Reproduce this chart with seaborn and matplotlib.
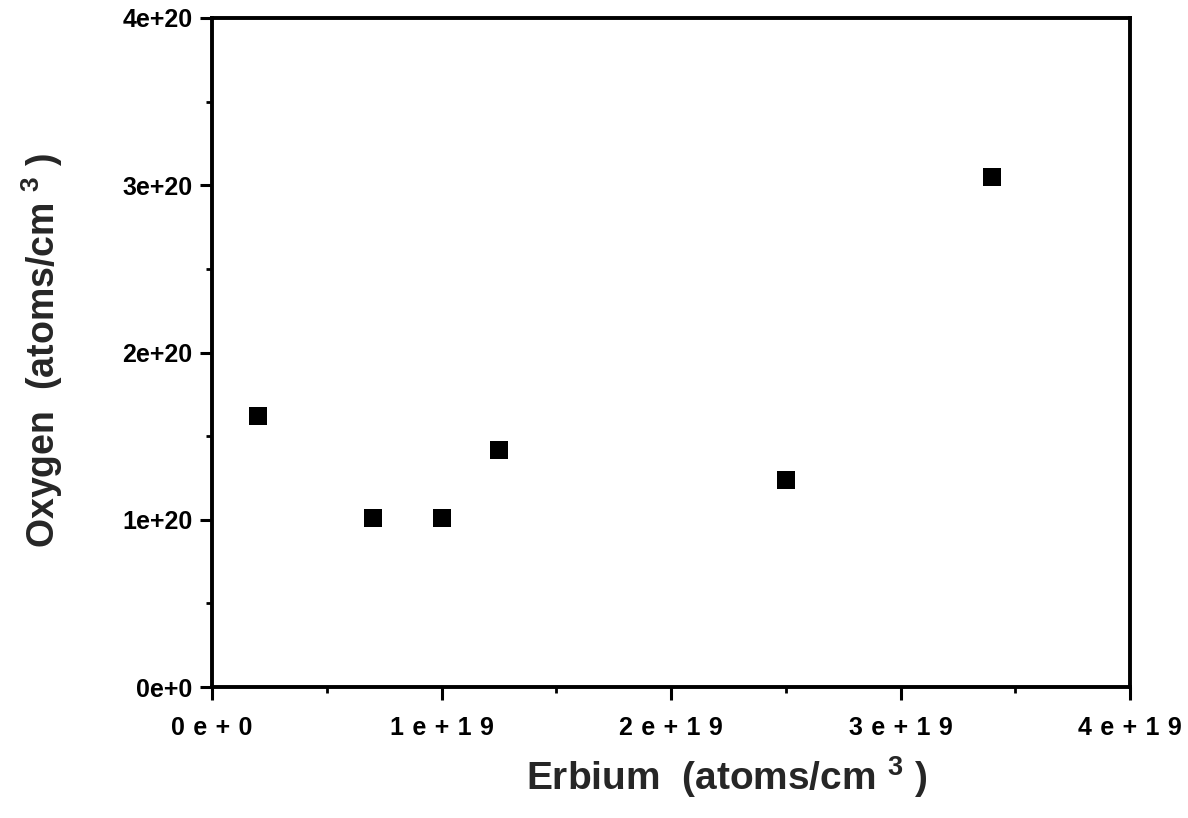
import matplotlib
matplotlib.use("Agg")
import matplotlib.pyplot as plt
import seaborn as sns
import pandas as pd
from matplotlib.ticker import FixedLocator, MultipleLocator

erbium = [2.0e18, 7.0e18, 1.0e19, 1.25e19, 2.5e19, 3.4e19]
oxygen = [1.62e20, 1.01e20, 1.01e20, 1.42e20, 1.24e20, 3.05e20]
sp = "\u2004"
x_ticks = [0, 1e19, 2e19, 3e19, 4e19]
x_tick_labels = [sp.join("0e+0"), sp.join("1e+19"), sp.join("2e+19"),
                 sp.join("3e+19"), sp.join("4e+19")]
y_ticks = [0, 1e20, 2e20, 3e20, 4e20]
y_tick_labels = ["0e+0", "1e+20", "2e+20", "3e+20", "4e+20"]

sns.set_theme(style="white")
plt.rcParams["font.family"] = ["Liberation Sans", "DejaVu Sans"]
plt.rcParams["font.weight"] = "bold"
plt.rcParams["mathtext.fontset"] = "custom"
plt.rcParams["mathtext.rm"] = "Liberation Sans:bold"
plt.rcParams["mathtext.it"] = "Liberation Sans:bold"
plt.rcParams["mathtext.bf"] = "Liberation Sans:bold"

df = pd.DataFrame({"Erbium": erbium, "Oxygen": oxygen})

fig = plt.figure(figsize=(11.88, 8.18), dpi=100)
ax = fig.add_axes([0.1785, 0.1601, 0.7727, 0.8179])

sns.scatterplot(data=df, x="Erbium", y="Oxygen", marker="s", s=150,
                color="black", edgecolor="black", linewidth=0, ax=ax, zorder=3)

ax.set_xlim(0, 4e19)
ax.set_ylim(0, 4e20)
ax.xaxis.set_major_locator(FixedLocator(x_ticks))
ax.set_xticklabels(x_tick_labels)
ax.yaxis.set_major_locator(FixedLocator(y_ticks))
ax.set_yticklabels(y_tick_labels)
ax.xaxis.set_minor_locator(MultipleLocator(5e18))
ax.yaxis.set_minor_locator(MultipleLocator(5e19))

for s in ax.spines.values():
    s.set_linewidth(2.8)
    s.set_color("black")

ax.tick_params(axis="both", which="major", direction="out", length=9, width=2.2,
               colors="black", labelsize=18, bottom=True, left=True, top=False, right=False)
ax.tick_params(axis="x", which="major", pad=12)
ax.tick_params(axis="y", which="major", pad=5)
ax.tick_params(axis="both", which="minor", direction="out", length=4.5, width=2,
               colors="black", bottom=True, left=True, top=False, right=False)
for lab in ax.get_xticklabels() + ax.get_yticklabels():
    lab.set_fontweight("bold")

ax.set_xlabel("Erbium  (atoms/cm $^{3}$ )", fontsize=28, fontweight="bold")
ax.set_ylabel("Oxygen  (atoms/cm $^{3}$ )", fontsize=27, fontweight="bold")
ax.xaxis.set_label_coords(0.561, -0.10)
ax.yaxis.set_label_coords(-0.16, 0.504)
ax.grid(False)

fig.savefig("out.png", dpi=100)
